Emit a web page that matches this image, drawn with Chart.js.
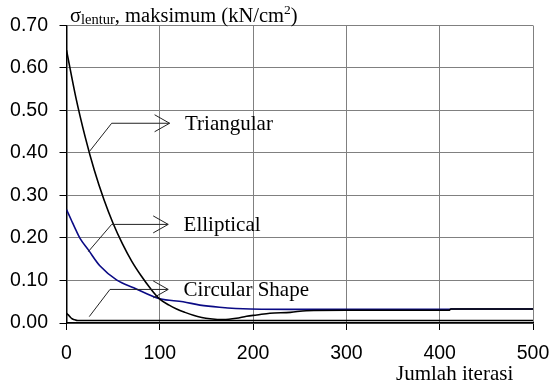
<!DOCTYPE html>
<html>
<head>
<meta charset="utf-8">
<script src="https://cdn.jsdelivr.net/npm/chart.js@4.4.0/dist/chart.umd.min.js"></script>
<style>
  html, body { margin: 0; padding: 0; background: #ffffff; }
  #wrap { width: 552px; height: 389px; position: relative; }
  canvas { display: block; }
</style>
</head>
<body>
<div id="wrap"><canvas id="c" width="552" height="389"></canvas></div>
<script>
// ---- data ----
const xTicks = [0, 100, 200, 300, 400, 500];
const yTicks = [0.00, 0.10, 0.20, 0.30, 0.40, 0.50, 0.60, 0.70];

const triangularX = [0, 10, 20, 30, 40, 50, 60, 70, 80, 90, 100, 110, 118, 127, 136, 145, 154, 168, 182, 193, 204, 218, 240, 257, 300, 410, 412, 500];
const triangularY = [0.642, 0.531, 0.438, 0.358, 0.291, 0.234, 0.186, 0.145, 0.111, 0.081, 0.056, 0.042, 0.033, 0.025, 0.018, 0.013, 0.010, 0.008, 0.011, 0.016, 0.019, 0.023, 0.025, 0.029, 0.030, 0.030, 0.033, 0.033];

const ellipticalX = [0, 5, 10, 14.5, 23.4, 36, 54, 72, 100, 125, 143, 164, 197, 260, 410, 412, 500];
const ellipticalY = [0.267, 0.243, 0.219, 0.199, 0.172, 0.134, 0.101, 0.083, 0.057, 0.050, 0.042, 0.037, 0.033, 0.032, 0.032, 0.033, 0.033];

const circularX = [0, 2, 4, 6, 9, 12, 500];
const circularY = [0.023, 0.019, 0.014, 0.010, 0.0075, 0.006, 0.006];

// annotation callouts
const calloutNames = ["Triangular", "Elliptical", "Circular Shape"];
const calloutStartX = [24.4, 23.4, 24.4];
const calloutStartY = [0.403, 0.168, 0.015];
const calloutElbowX = [48.4, 48.4, 46.6];
const calloutLevelY = [0.470, 0.232, 0.079];
const calloutEndX = [110.5, 109.0, 109.0];
const calloutLabelX = [127, 125.5, 125.5];

const yTitleMain1 = "\u03c3";
const yTitleSub = "lentur";
const yTitleMain2 = ", maksimum (kN/cm";
const yTitleSup = "2";
const yTitleMain3 = ")";
const xTitle = "Jumlah iterasi";

function pts(xs, ys) { return xs.map((x, i) => ({ x: x, y: ys[i] })); }

const serif = "'Liberation Serif', 'Times New Roman', serif";

const annotationPlugin = {
  id: 'callouts',
  afterDatasetsDraw(chart) {
    const ctx = chart.ctx;
    const xs = chart.scales.x, ys = chart.scales.y;
    ctx.save();
    ctx.strokeStyle = '#222';
    ctx.lineWidth = 1;
    for (let i = 0; i < calloutNames.length; i++) {
      const sx = xs.getPixelForValue(calloutStartX[i]);
      const sy = ys.getPixelForValue(calloutStartY[i]);
      const ex = xs.getPixelForValue(calloutElbowX[i]);
      const ly = ys.getPixelForValue(calloutLevelY[i]);
      const tx = xs.getPixelForValue(calloutEndX[i]);
      ctx.beginPath();
      ctx.moveTo(sx, sy);
      ctx.lineTo(ex, ly);
      ctx.lineTo(tx, ly);
      ctx.stroke();
      ctx.beginPath();
      ctx.moveTo(tx - 15, ly - 8.5);
      ctx.lineTo(tx, ly);
      ctx.lineTo(tx - 15, ly + 8.5);
      ctx.stroke();
      ctx.fillStyle = '#000';
      ctx.font = '21px ' + serif;
      ctx.textAlign = 'left';
      ctx.textBaseline = 'middle';
      ctx.fillText(calloutNames[i], xs.getPixelForValue(calloutLabelX[i]), ly + 1);
    }
    ctx.restore();
  },
  afterDraw(chart) {
    const ctx = chart.ctx;
    const area = chart.chartArea;
    ctx.save();
    ctx.fillStyle = '#000';
    ctx.textBaseline = 'alphabetic';
    ctx.textAlign = 'left';
    let x = area.left + 3.5;
    const base = 21.5;
    ctx.font = '20.5px ' + serif;
    ctx.fillText(yTitleMain1, x, base); x += ctx.measureText(yTitleMain1).width;
    ctx.font = '14.5px ' + serif;
    ctx.fillText(yTitleSub, x, base + 2); x += ctx.measureText(yTitleSub).width;
    ctx.font = '20.5px ' + serif;
    ctx.fillText(yTitleMain2, x, base); x += ctx.measureText(yTitleMain2).width;
    ctx.font = '13.5px ' + serif;
    ctx.fillText(yTitleSup, x, base - 8); x += ctx.measureText(yTitleSup).width;
    ctx.font = '20.5px ' + serif;
    ctx.fillText(yTitleMain3, x, base);
    ctx.font = '21px ' + serif;
    ctx.fillText(xTitle, 396, 380);
    ctx.restore();
  }
};

new Chart(document.getElementById('c'), {
  type: 'line',
  data: {
    datasets: [
      { label: 'Triangular', data: pts(triangularX, triangularY), borderColor: '#000000', borderWidth: 1.6 },
      { label: 'Elliptical', data: pts(ellipticalX, ellipticalY), borderColor: '#0a0a85', borderWidth: 1.6 },
      { label: 'Circular Shape', data: pts(circularX, circularY), borderColor: '#000000', borderWidth: 1.6 }
    ]
  },
  options: {
    responsive: false,
    animation: false,
    devicePixelRatio: 1,
    elements: { point: { radius: 0 }, line: { tension: 0.3, cubicInterpolationMode: 'monotone', fill: false } },
    layout: { padding: { top: 25.5, right: 19, left: 0, bottom: 0 } },
    plugins: { legend: { display: false }, tooltip: { enabled: false }, title: { display: false } },
    scales: {
      x: {
        type: 'linear', min: 0, max: 500,
        afterBuildTicks: (s) => { s.ticks = xTicks.map(v => ({ value: v })); },
        afterFit: (s) => { s.height = 66; s.paddingLeft = 0; s.paddingRight = 0; },
        ticks: { color: '#000', font: { family: "'Liberation Sans', Arial, sans-serif", size: 19.5 }, padding: 12, maxRotation: 0, autoSkip: false },
        grid: { color: '#808080', lineWidth: 1, tickLength: 7, tickColor: '#000' },
        border: { color: '#000', width: 1.5 }
      },
      y: {
        type: 'linear', min: 0, max: 0.7,
        afterBuildTicks: (s) => { s.ticks = yTicks.map(v => ({ value: v })); },
        afterFit: (s) => { s.width = 66.5; s.paddingTop = 0; s.paddingBottom = 0; },
        ticks: { color: '#000', font: { family: "'Liberation Sans', Arial, sans-serif", size: 19.5 }, padding: 11.5, autoSkip: false, callback: (v) => Number(v).toFixed(2) },
        grid: { color: '#808080', lineWidth: 1, tickLength: 7, tickColor: '#000' },
        border: { color: '#000', width: 1.5 }
      }
    }
  },
  plugins: [annotationPlugin]
});
</script>
</body>
</html>
